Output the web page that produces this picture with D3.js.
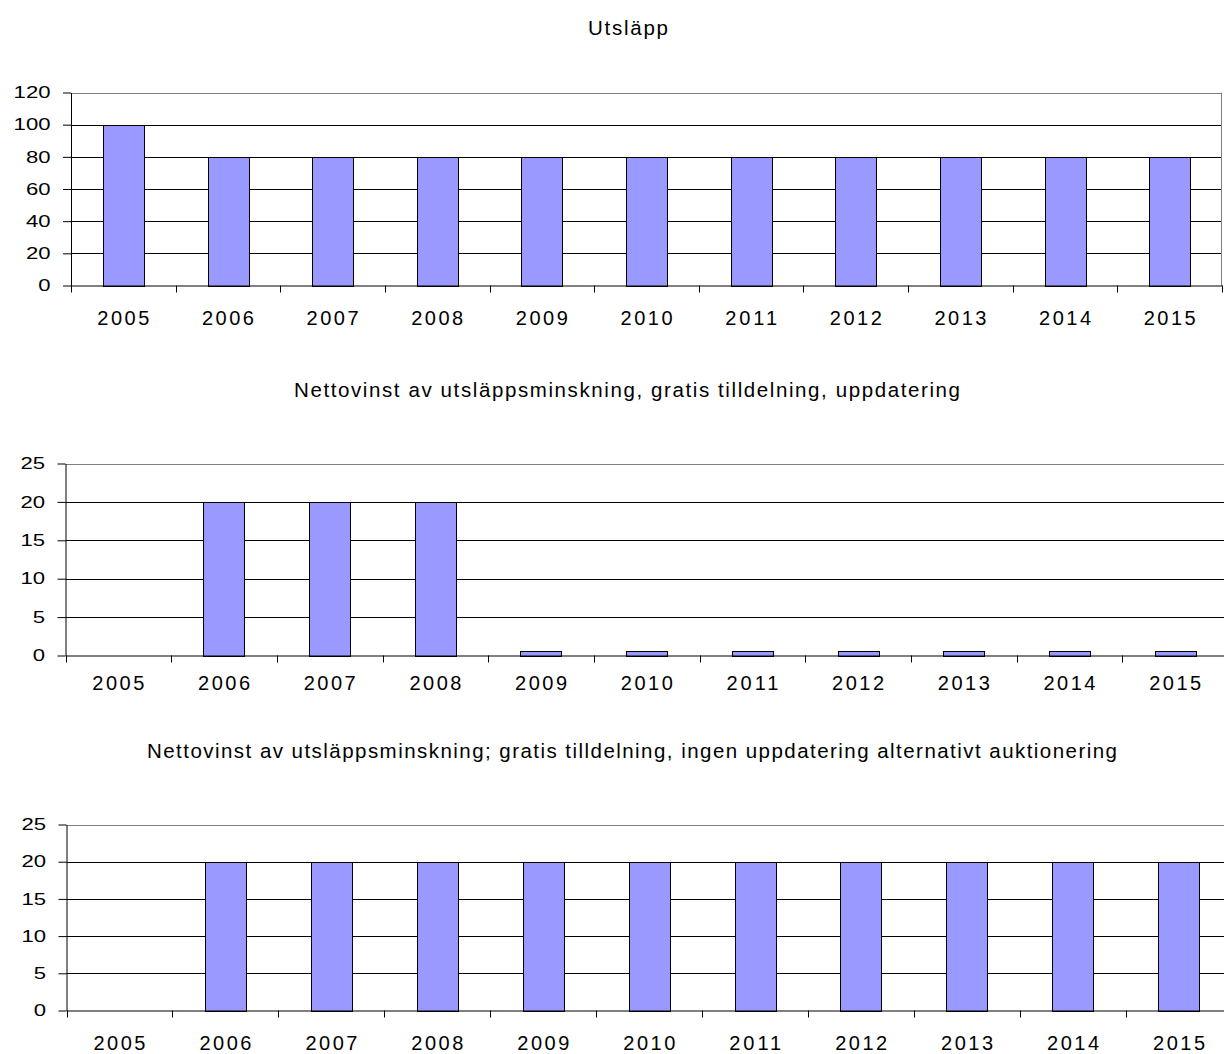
<!DOCTYPE html>
<html>
<head>
<meta charset="utf-8">
<script src="https://cdn.jsdelivr.net/npm/d3@7"></script>
<style>
body { margin: 0; background: #fff; }
text { font-family: Arial, "Liberation Sans", sans-serif; fill: #000; }
</style>
</head>
<body>
<svg id="chart" width="1224" height="1054"></svg>
<script>
var years = ['2005','2006','2007','2008','2009','2010','2011','2012','2013','2014','2015'];
var utslapp = [100, 80, 80, 80, 80, 80, 80, 80, 80, 80, 80];
var vinstUppdatering = [0, 20, 20, 20, 0.6, 0.6, 0.6, 0.6, 0.6, 0.6, 0.6];
var vinstIngenUppdatering = [0, 20, 20, 20, 20, 20, 20, 20, 20, 20, 20];
var ticksUtslapp = [0, 20, 40, 60, 80, 100, 120];
var ticksVinst = [0, 5, 10, 15, 20, 25];
var titles = ['Utsläpp',
	'Nettovinst av utsläppsminskning, gratis tilldelning, uppdatering',
	'Nettovinst av utsläppsminskning; gratis tilldelning, ingen uppdatering alternativt auktionering'];

// layout of the three panels (pixels)
var panels = [
	{values: utslapp, ticks: ticksUtslapp, title: titles[0], x0: 71, x1: 1222, y0: 285.5, y1: 92.5,
		titleX: 628, titleY: 35, titleLen: 80, labelY: 39.5},
	{values: vinstUppdatering, ticks: ticksVinst, title: titles[1], x0: 65.5, x1: 1228, y0: 655.5, y1: 463.5,
		titleX: 627, titleY: 397, titleLen: 666, labelY: 34.5},
	{values: vinstIngenUppdatering, ticks: ticksVinst, title: titles[2], x0: 66.5, x1: 1232, y0: 1010.5, y1: 824.5,
		titleX: 632, titleY: 758, titleLen: 970, labelY: 39.5}
];

var svg = d3.select('#chart');

panels.forEach(function(p) {
	var g = svg.append('g');
	var max = p.ticks[p.ticks.length-1];
	var x = d3.scaleBand().domain(years).range([p.x0, p.x1]).paddingInner(0.61).paddingOuter(0.305);
	var xb = d3.scaleBand().domain(years).range([p.x0, p.x1]);
	var y = d3.scaleLinear().domain([0, max]).range([p.y0, p.y1]);

	g.append('text')
		.attr('x', p.titleX)
		.attr('y', p.titleY)
		.attr('text-anchor', 'middle')
		.attr('textLength', p.titleLen)
		.attr('lengthAdjust', 'spacing')
		.style('font-size', '20.5px')
		.text(p.title);

	// gridlines
	p.ticks.forEach(function(t) {
		if (t == 0) return;
		g.append('line')
			.attr('x1', p.x0).attr('x2', p.x1)
			.attr('y1', Math.round(y(t)) + 0.5).attr('y2', Math.round(y(t)) + 0.5)
			.style('stroke', t == max ? '#808080' : '#000')
			.style('stroke-width', 1);
	});
	g.append('line')
		.attr('x1', p.x1 - 0.5).attr('x2', p.x1 - 0.5)
		.attr('y1', y(max)).attr('y2', p.y0)
		.style('stroke', '#808080');

	// bars
	g.selectAll('rect.bar')
		.data(years.map(function(d, i) { return {year: d, v: p.values[i]}; }).filter(function(d) { return d.v > 0; }))
		.enter().append('rect')
		.attr('class', 'bar')
		.attr('x', function(d) { return Math.round(x(d.year)) + 0.5; })
		.attr('y', function(d) { return Math.round(y(d.v)) + 0.5; })
		.attr('width', Math.round(x.bandwidth()))
		.attr('height', function(d) { return Math.round(p.y0) - Math.round(y(d.v)); })
		.style('fill', '#9999ff')
		.style('stroke', '#000')
		.style('stroke-width', 1);

	// y axis
	var ya = g.append('g')
		.attr('transform', 'translate(' + p.x0 + ',0)')
		.call(d3.axisLeft(y).tickValues(p.ticks).tickSize(8).tickSizeOuter(0).tickPadding(12.5));
	ya.select('.domain').style('stroke', '#000');
	ya.selectAll('.tick line').style('stroke', '#000');
	ya.selectAll('.tick text')
		.style('font-size', '16.5px')
		.attr('textLength', function(d) { return String(d).length * 12.3; })
		.attr('lengthAdjust', 'spacingAndGlyphs');

	// x axis: labels in the middle, ticks on category boundaries
	var xa = g.append('g')
		.attr('transform', 'translate(0,' + p.y0 + ')')
		.call(d3.axisBottom(x).tickSize(0).tickSizeOuter(0));
	xa.select('.domain').style('stroke', '#000');
	xa.selectAll('.tick text')
		.attr('y', p.labelY)
		.attr('dy', null)
		.style('font-size', '20px')
		.attr('textLength', 52)
		.attr('lengthAdjust', 'spacing');
	var bounds = years.map(function(d) { return xb(d); }).concat([p.x1]);
	g.selectAll('line.xtick')
		.data(bounds)
		.enter().append('line')
		.attr('class', 'xtick')
		.attr('x1', function(d) { return Math.round(d) + 0.5; })
		.attr('x2', function(d) { return Math.round(d) + 0.5; })
		.attr('y1', p.y0)
		.attr('y2', p.y0 + 7)
		.style('stroke', '#000');
});
</script>
</body>
</html>
